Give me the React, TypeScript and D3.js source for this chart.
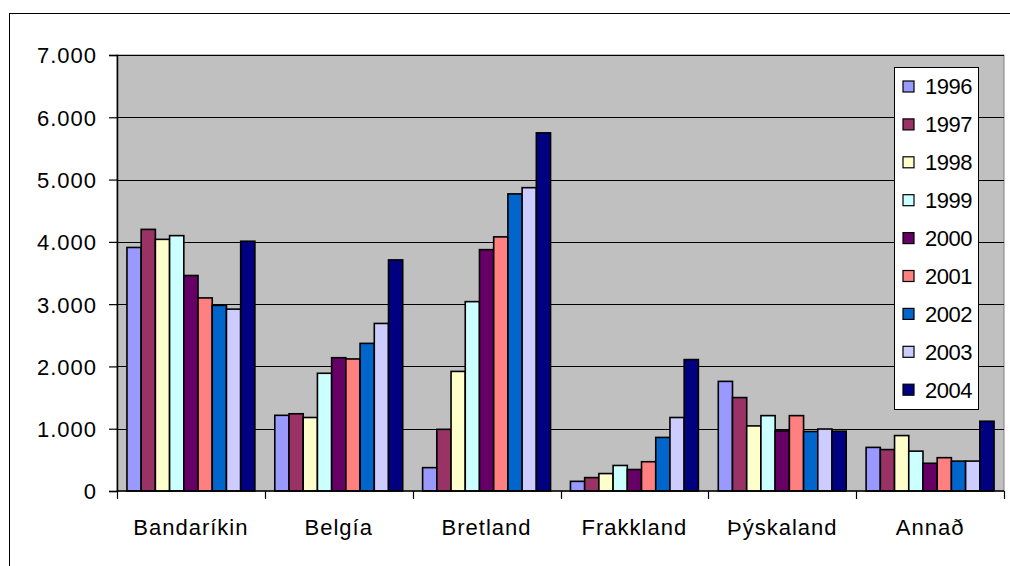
import React, { useEffect, useRef } from 'react';
import * as d3 from 'd3';

const countries = ['Bandaríkin', 'Belgía', 'Bretland', 'Frakkland', 'Þýskaland', 'Annað'];
const years = ['1996', '1997', '1998', '1999', '2000', '2001', '2002', '2003', '2004'];
const yearColors = ['#9999FF', '#993366', '#FFFFCC', '#CCFFFF', '#660066', '#FF8080', '#0066CC', '#CCCCFF', '#000080'];

// one array per country, values in the order of years
const bandarikin = [3910, 4200, 4040, 4100, 3460, 3100, 2980, 2920, 4010];
const belgia = [1215, 1240, 1180, 1890, 2140, 2120, 2370, 2690, 3710];
const bretland = [375, 990, 1920, 3040, 3875, 4080, 4770, 4870, 5750];
const frakkland = [155, 215, 280, 410, 345, 470, 860, 1180, 2110];
const thyskaland = [1760, 1500, 1045, 1210, 965, 1210, 955, 995, 960];
const annad = [700, 665, 890, 640, 445, 535, 480, 480, 1120];

const yTicks = [0, 1000, 2000, 3000, 4000, 5000, 6000, 7000];

const W = 1010;
const H = 566;
const plot = { left: 117, right: 1004, top: 55, bottom: 491 };

export default function App() {
	const ref = useRef<SVGSVGElement>(null);

	useEffect(() => {
		const svg = d3.select(ref.current);
		svg.selectAll('*').remove();

		const table = [bandarikin, belgia, bretland, frakkland, thyskaland, annad].map((vals, i) => ({
			country: countries[i],
			values: vals.map((v, j) => ({ year: years[j], value: v }))
		}));

		const x0 = d3.scaleBand().domain(countries).range([plot.left, plot.right]).padding(0);
		const x1 = d3.scaleBand().domain(years).range([0, x0.bandwidth()]).paddingInner(0).paddingOuter(0.7);
		const y = d3.scaleLinear().domain([0, 7000]).range([plot.bottom, plot.top]);
		const color = d3.scaleOrdinal<string, string>().domain(years).range(yearColors);
		const fmt = (d: number) => d3.format(',')(d).replace(/,/g, '.');

		const font = "Arial, 'Liberation Sans', sans-serif";

		// outer frame
		svg.append('rect')
			.attr('x', 9.5).attr('y', 13.5)
			.attr('width', 1100).attr('height', 700)
			.attr('fill', '#fff').attr('stroke', '#000');

		// plot area
		svg.append('rect')
			.attr('x', plot.left).attr('y', plot.top)
			.attr('width', plot.right - plot.left).attr('height', plot.bottom - plot.top)
			.attr('fill', '#C0C0C0').attr('stroke', '#808080');

		// gridlines
		svg.append('g')
			.selectAll('line')
			.data(yTicks.slice(1))
			.enter()
			.append('line')
			.attr('x1', plot.left).attr('x2', plot.right)
			.attr('y1', d => Math.round(y(d)) + 0.5).attr('y2', d => Math.round(y(d)) + 0.5)
			.attr('stroke', '#000').attr('stroke-width', 1);

		// bars
		const groups = svg.append('g')
			.selectAll('g')
			.data(table)
			.enter()
			.append('g')
			.attr('transform', d => `translate(${x0(d.country)},0)`);

		groups.selectAll('rect')
			.data(d => d.values)
			.enter()
			.append('rect')
			.attr('x', d => x1(d.year) as number)
			.attr('y', d => y(d.value))
			.attr('width', x1.bandwidth())
			.attr('height', d => y(0) - y(d.value))
			.attr('fill', d => color(d.year))
			.attr('stroke', '#000')
			.attr('stroke-width', 1.6);

		// y axis
		const yAxis = d3.axisLeft(y).tickValues(yTicks).tickSize(8).tickPadding(12).tickFormat(d => fmt(d as number));
		const gy = svg.append('g')
			.attr('transform', `translate(${plot.left},0)`)
			.call(yAxis);
		gy.select('.domain').attr('stroke', '#000').attr('stroke-width', 1.5);
		gy.selectAll('.tick line').attr('stroke', '#000').attr('stroke-width', 1.2);
		gy.selectAll('.tick text')
			.attr('font-family', font).attr('font-size', 22).attr('letter-spacing', 1)
			.attr('fill', '#000').attr('dy', '0.36em');

		// x axis
		const edges = [...countries.map(c => x0(c) as number), plot.right];
		svg.append('line')
			.attr('x1', plot.left).attr('x2', plot.right)
			.attr('y1', plot.bottom).attr('y2', plot.bottom)
			.attr('stroke', '#000').attr('stroke-width', 1.5);
		svg.append('g')
			.selectAll('line')
			.data(edges)
			.enter()
			.append('line')
			.attr('x1', d => Math.round(d) + 0.5).attr('x2', d => Math.round(d) + 0.5)
			.attr('y1', plot.bottom).attr('y2', plot.bottom + 8)
			.attr('stroke', '#000').attr('stroke-width', 1.2);
		svg.append('g')
			.selectAll('text')
			.data(countries)
			.enter()
			.append('text')
			.attr('x', d => (x0(d) as number) + x0.bandwidth() / 2)
			.attr('y', 535)
			.attr('text-anchor', 'middle')
			.attr('font-family', font).attr('font-size', 22).attr('letter-spacing', 1)
			.text(d => d);

		// legend
		const legend = svg.append('g');
		legend.append('rect')
			.attr('x', 894.5).attr('y', 67.5)
			.attr('width', 84).attr('height', 342)
			.attr('fill', '#fff').attr('stroke', '#000');
		const items = legend.selectAll('g.item')
			.data(years)
			.enter()
			.append('g')
			.attr('class', 'item')
			.attr('transform', (d, i) => `translate(0,${86.5 + i * 37.9})`);
		items.append('rect')
			.attr('x', 903).attr('y', -5.5)
			.attr('width', 11).attr('height', 11)
			.attr('fill', d => color(d))
			.attr('stroke', '#000').attr('stroke-width', 1.2);
		items.append('text')
			.attr('x', 925).attr('y', 0).attr('dy', '0.36em')
			.attr('font-family', font).attr('font-size', 22).attr('letter-spacing', -0.5)
			.text(d => d);
	}, []);

	return (
		<svg ref={ref} width={W} height={H} style={{ position: 'absolute', left: 0, top: 0 }} />
	);
}
